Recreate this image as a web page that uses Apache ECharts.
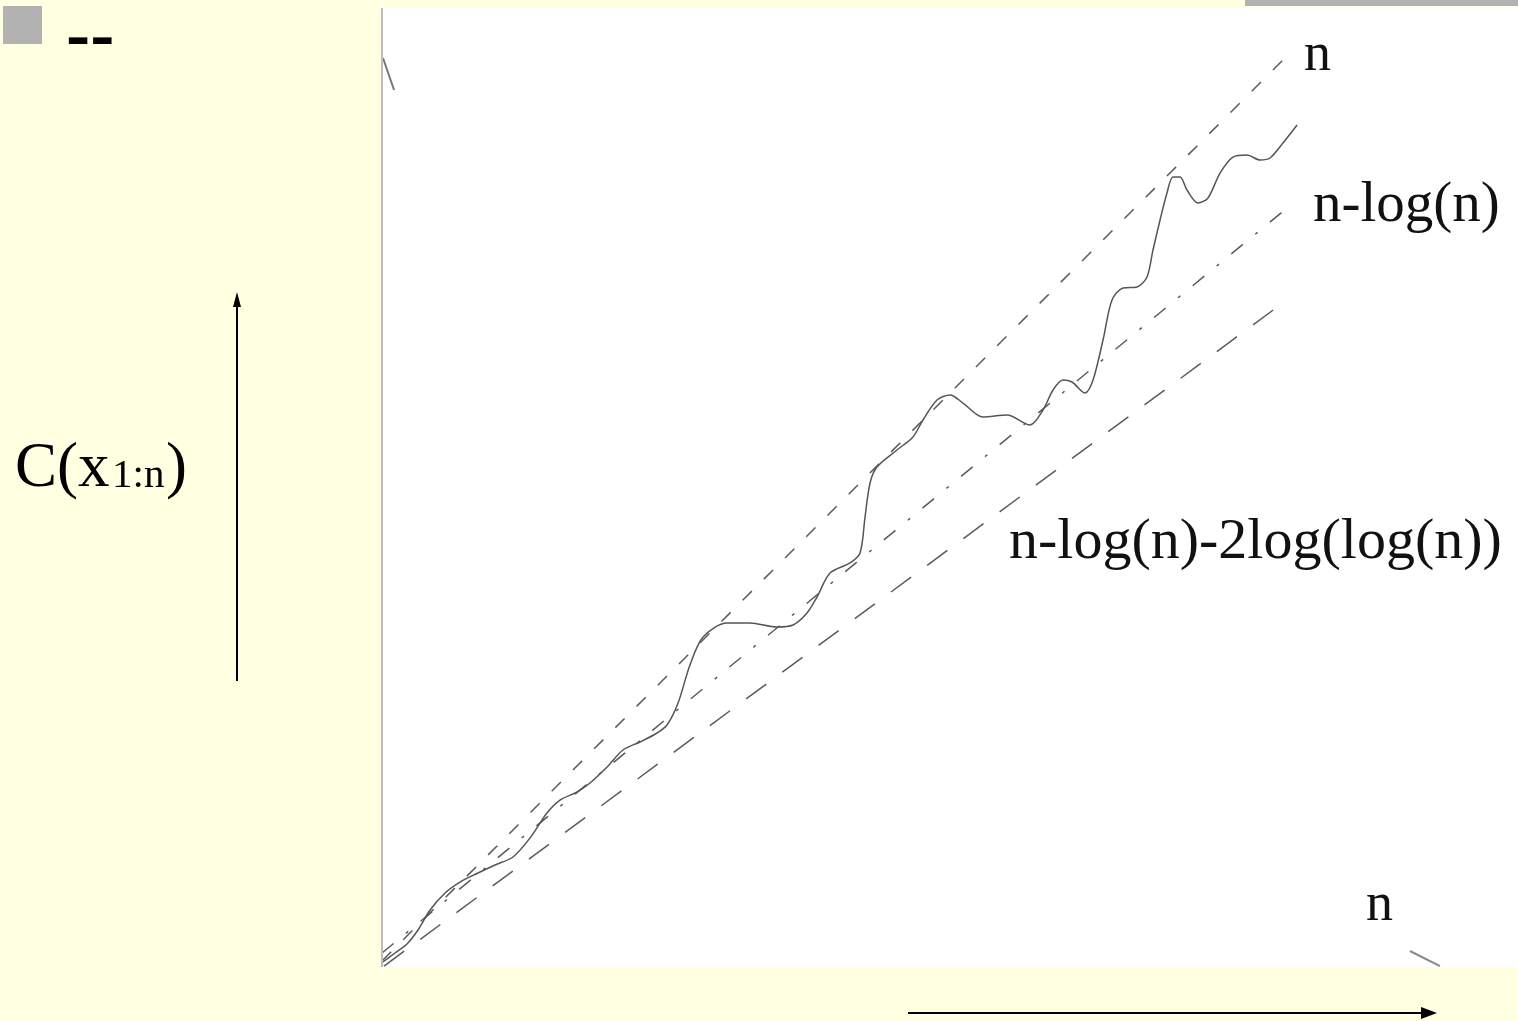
<!DOCTYPE html>
<html>
<head>
<meta charset="utf-8">
<script src="https://cdn.jsdelivr.net/npm/echarts@6/dist/echarts.min.js"></script>
<style>
html,body{margin:0;padding:0;background:#FFFFE1;}
#chart{width:1518px;height:1021px;}
</style>
</head>
<body>
<div id="chart"></div>
<script>
// Observed complexity curve C(x1:n) (n on x, value on y, arbitrary units)
const curveC = [
  [0.09,0.52],[1.14,1.46],[2.20,2.40],[3.17,3.86],[4.23,5.94],[5.55,7.72],[6.87,8.86],
  [8.45,9.80],[9.95,10.64],[11.53,11.47],[13.03,13.45],[14.52,16.06],[15.67,17.41],
  [17.17,18.25],[18.31,19.19],[19.81,20.86],[21.21,22.63],[22.71,23.46],[24.21,24.40],
  [25.09,25.23],[26.06,27.53],[27.11,31.49],[28.26,34.41],[30.37,35.87],[32.39,35.87],
  [34.77,35.45],[36.18,35.66],[37.41,36.91],[38.29,38.58],[39.44,41.08],[41.20,42.13],
  [42.08,43.17],[42.52,46.92],[42.96,50.47],[43.57,52.14],[45.33,53.91],[46.74,55.27],
  [47.62,57.04],[48.86,59.12],[50.00,59.65],[51.14,58.81],[52.90,57.35],[55.02,57.56],
  [57.04,56.52],[58.19,58.08],[59.07,60.17],[59.95,61.21],[60.74,61.00],[61.88,59.85],
  [62.59,61.21],[63.47,65.38],[64.26,69.55],[65.23,70.80],[66.46,70.91],[67.34,71.95],
  [67.87,74.77],[68.49,77.89],[69.10,80.71],[69.63,82.38],[70.25,82.38],[70.86,81.02],
  [71.83,79.67],[72.71,80.19],[73.77,82.79],[74.91,84.46],[76.14,84.67],[77.29,84.15],
  [78.17,84.36],[79.31,85.92],[80.55,87.80]
];
const lineN = [[0,0.63],[79.93,95.31]];
const lineNLogN = [[0,1.46],[79.67,79.14]];
const lineNLogNLogLog = [[0.18,0.10],[79.40,69.34]];
const fragTopLeft = [[0.09,94.79],[1.06,91.45]];
const fragBottomRight = [[90.49,1.67],[93.13,0.10]];
const labelN = 'n';
const labelNLogN = 'n-log(n)';
const labelLower = 'n-log(n)-2log(log(n))';
const axisLabelX = 'n';
const yLabelMain = 'C(x';
const yLabelSub = '1:n';
const yLabelEnd = ')';
const bulletText = '--';

const chart = echarts.init(document.getElementById('chart'));
const gray = '#5a5a5a';
function lineSeries(data, type, width, smooth, color){
  return {type:'line', data:data, showSymbol:false, smooth:smooth||false, silent:true,
    lineStyle:{color:color||gray, width:width, type:type}, z:3};
}
const serif = '"Liberation Serif","Times New Roman",serif';
chart.setOption({
  backgroundColor:'#FFFFE1',
  animation:false,
  grid:{left:382,right:0,top:8,bottom:54,show:true,backgroundColor:'#ffffff',borderWidth:0},
  xAxis:{type:'value',min:0,max:100,show:false},
  yAxis:{type:'value',min:0,max:100,show:false},
  series:[
    lineSeries(lineN,[13,17],1.5),
    lineSeries(lineNLogN,[15,16,3,16],1.5),
    lineSeries(lineNLogNLogLog,[25,20],1.5),
    lineSeries(curveC,'solid',1.5,0.3,'#555555'),
    lineSeries(fragTopLeft,'solid',2,false,'#777777'),
    lineSeries(fragBottomRight,'solid',2,false,'#888888')
  ],
  graphic:[
    {type:'rect',shape:{x:381,y:8,width:2,height:959},style:{fill:'#bdbdbd'},z:10},
    {type:'rect',shape:{x:3,y:6,width:39,height:38},style:{fill:'#B2B2B2'}},
    {type:'rect',shape:{x:1245,y:0,width:273,height:6},style:{fill:'#B2B2B2'}},
    {type:'text',x:66,y:40,scaleX:1.3,originX:0,originY:0,style:{text:bulletText,x:0,y:0,font:'bold 56px "Liberation Sans",Arial,sans-serif',fill:'#000',align:'left',verticalAlign:'middle'}},
    {type:'text',style:{text:labelN,x:1304,y:56,font:'54px '+serif,fill:'#111',align:'left',verticalAlign:'middle'},z:20},
    {type:'text',style:{text:labelNLogN,x:1313,y:206,font:'57px '+serif,fill:'#111',align:'left',verticalAlign:'middle'},z:20},
    {type:'text',style:{text:labelLower,x:1009,y:543,font:'58px '+serif,fill:'#111',align:'left',verticalAlign:'middle'},z:20},
    {type:'text',style:{text:axisLabelX,x:1366,y:906,font:'54px '+serif,fill:'#111',align:'left',verticalAlign:'middle'},z:20},
    {type:'text',style:{text:yLabelMain,x:15,y:469,font:'63px '+serif,fill:'#000',align:'left',verticalAlign:'middle'}},
    {type:'text',style:{text:yLabelSub,x:112,y:476,font:'41px '+serif,fill:'#000',align:'left',verticalAlign:'middle'}},
    {type:'text',style:{text:yLabelEnd,x:166,y:469,font:'63px '+serif,fill:'#000',align:'left',verticalAlign:'middle'}},
    {type:'line',shape:{x1:237,y1:681,x2:237,y2:304},style:{stroke:'#000',lineWidth:2}},
    {type:'polygon',shape:{points:[[237,292],[233,307],[241,307]]},style:{fill:'#000'}},
    {type:'line',shape:{x1:908,y1:1013,x2:1423,y2:1013},style:{stroke:'#000',lineWidth:2}},
    {type:'polygon',shape:{points:[[1437,1013],[1421,1007],[1421,1019]]},style:{fill:'#000'}}
  ]
});
</script>
</body>
</html>
